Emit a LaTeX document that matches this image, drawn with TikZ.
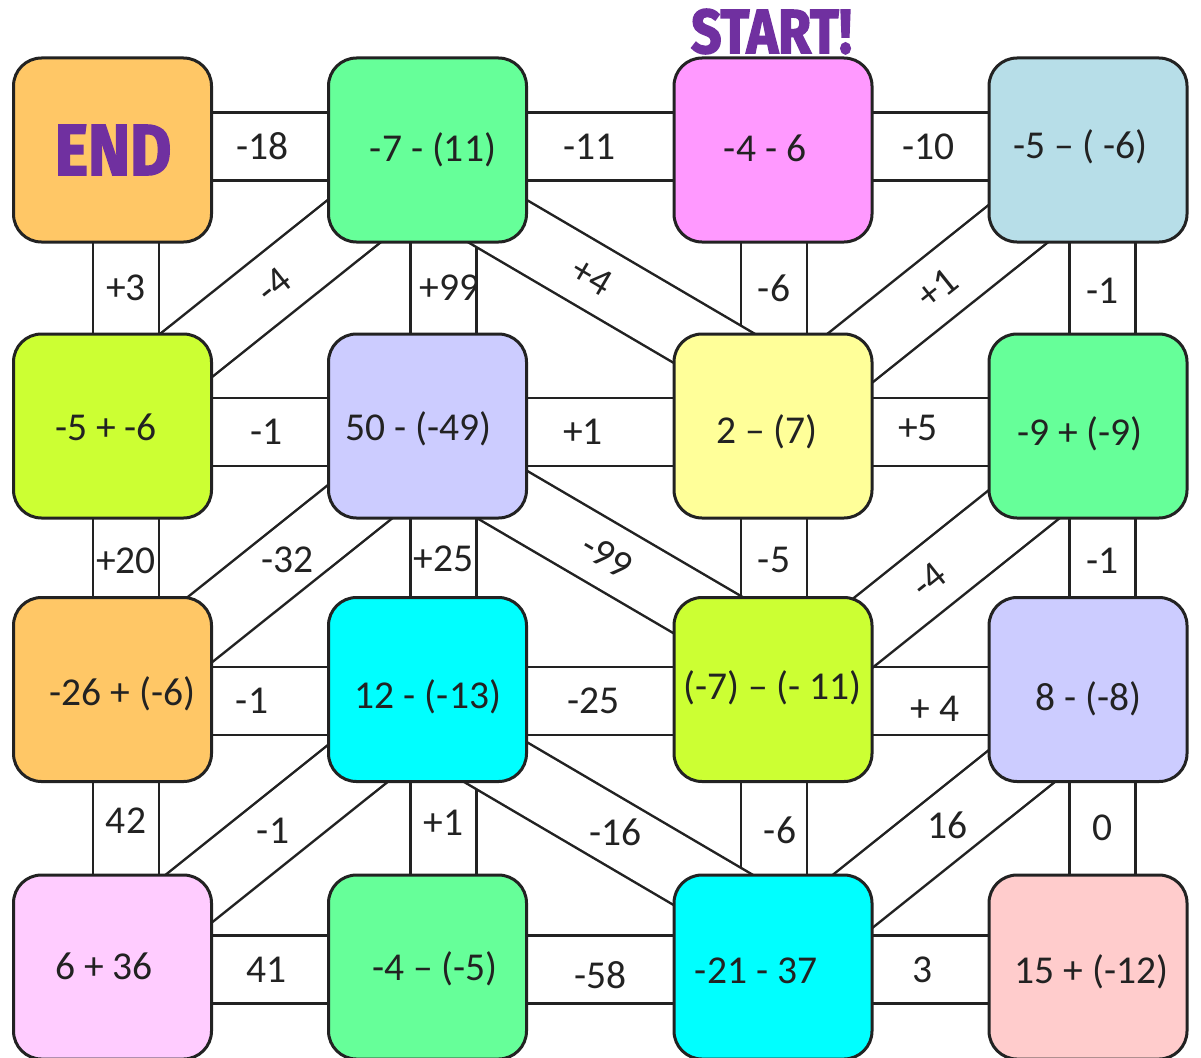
\documentclass[tikz,border=0pt]{standalone}
\usepackage{fontspec}
\setmainfont{Carlito}
\newfontfamily\chunky{Fira Sans}[BoldFeatures={FakeBold=2.5}]
\usetikzlibrary{backgrounds}
\definecolor{ink}{HTML}{222222}
\definecolor{endpurple}{HTML}{7030A0}
\definecolor{peach}{HTML}{FFC766}
\definecolor{mint}{HTML}{66FF99}
\definecolor{orchid}{HTML}{FF99FF}
\definecolor{steel}{HTML}{B7DEE8}
\definecolor{chartr}{HTML}{CCFF33}
\definecolor{lavender}{HTML}{CCCCFF}
\definecolor{lemon}{HTML}{FFFF99}
\definecolor{aqua}{HTML}{00FFFF}
\definecolor{blush}{HTML}{FFCCFF}
\definecolor{salmon}{HTML}{FFCCCC}
\newcommand\numfont{\fontsize{39.5}{44}\selectfont}
\tikzset{
  box/.style={draw=ink, line width=3pt, rounded corners=28pt,
              minimum width=198pt, minimum height=184pt, inner sep=0pt},
  expr/.style={font=\numfont, text=ink, inner sep=0pt},
  title/.style={font=\chunky\bfseries, text=endpurple, inner sep=0pt},
  chan/.style={draw=ink, line width=2.5pt, double=white, double distance=63.5pt},
  hchan/.style={chan, double distance=65.5pt},
  lbl/.style={font=\numfont, text=ink, inner sep=0pt},
}
\begin{document}
\begin{tikzpicture}[x=1pt, y=-1pt]
\useasboundingbox (0,0) rectangle (1201,1057);
\clip (0,0) rectangle (1201,1057);

% boxes
\node[box, fill=peach]    (b11) at (112.5,150) {};
\node[box, fill=mint]     (b12) at (427.5,150) {};
\node[box, fill=orchid]   (b13) at (773,150) {};
\node[box, fill=steel]    (b14) at (1088,150) {};
\node[box, fill=chartr]   (b21) at (112.5,426) {};
\node[box, fill=lavender] (b22) at (427.5,426) {};
\node[box, fill=lemon]    (b23) at (773,426) {};
\node[box, fill=mint]     (b24) at (1088,426) {};
\node[box, fill=peach]    (b31) at (112.5,689.5) {};
\node[box, fill=aqua]     (b32) at (427.5,689.5) {};
\node[box, fill=chartr]   (b33) at (773,689.5) {};
\node[box, fill=lavender] (b34) at (1088,689.5) {};
\node[box, fill=blush]    (b41) at (112.5,967) {};
\node[box, fill=mint]     (b42) at (427.5,967) {};
\node[box, fill=aqua]     (b43) at (773,967) {};
\node[box, fill=salmon]   (b44) at (1088,967) {};

% sums
\node[title] (e11) at (113,150) {\fontsize{72}{72}\selectfont\scalebox{.88}[1]{END}};
\node[expr] (e12) at (433,150) {-7 - (11)};
\node[expr] (e13) at (765,148) {-4 - 6};
\node[expr] (e14) at (1080.5,147) {-5 – ( -6)};
\node[expr] (e21) at (106,427) {-5 + -6};
\node[expr] (e22) at (418.5,429) {50 - (-49)};
\node[expr] (e23) at (767,432) {2 – (7)};
\node[expr] (e24) at (1080,434) {-9 + (-9)};
\node[expr] (e31) at (122.5,694) {-26 + (-6)};
\node[expr] (e32) at (428,697) {12 - (-13)};
\node[expr] (e33) at (772.5,688) {(-7) – (- 11)};
\node[expr] (e34) at (1088.5,699) {8 - (-8)};
\node[expr] (e41) at (104,966) {6 + 36};
\node[expr] (e42) at (435,969) {-4 – (-5)};
\node[expr] (e43) at (756,971) {-21 - 37};
\node[expr] (e44) at (1091.5,972) {15 + (-12)};
\node[title] (start) at (771.5,31.5) {\fontsize{62}{62}\selectfont\scalebox{.86}[1]{START!}};

\begin{pgfonlayer}{background}
\fill[white] (0,0) rectangle (1201,1057);
% across
\draw[hchan] ([yshift=3.5pt]b11.center) -- ([yshift=3.5pt]b12.center) node[lbl, pos=.475] (h11) {-18};
\draw[hchan] ([yshift=3.5pt]b12.center) -- ([yshift=3.5pt]b13.center) node[lbl, pos=.47] (h12) {-11};
\draw[hchan] ([yshift=3.5pt]b13.center) -- ([yshift=3.5pt]b14.center) node[lbl, pos=.495] (h13) {-10};
\draw[hchan] ([yshift=-6pt]b21.center) -- ([yshift=-6pt]b22.center) node[lbl, pos=.49] (h21) {-1};
\draw[hchan] ([yshift=-6pt]b22.center) -- ([yshift=-6pt]b23.center) node[lbl, pos=.45] (h22) {+1};
\draw[hchan] ([yshift=-6pt]b23.center) -- ([yshift=-6pt]b24.center) node[lbl, pos=.46, yshift=4pt] (h23) {+5};
\draw[hchan] ([yshift=-11.5pt]b31.center) -- ([yshift=-11.5pt]b32.center) node[lbl, pos=.443] (h31) {-1};
\draw[hchan] ([yshift=-11.5pt]b32.center) -- ([yshift=-11.5pt]b33.center) node[lbl, pos=.48] (h32) {-25};
\draw[hchan] ([yshift=-11.5pt]b33.center) -- ([yshift=-11.5pt]b34.center) node[lbl, pos=.514, yshift=-8pt] (h33) {+ 4};
\draw[hchan] ([yshift=-2.5pt]b41.center) -- ([yshift=-2.5pt]b42.center) node[lbl, pos=.49] (h41) {41};
\draw[hchan] ([yshift=-2.5pt]b42.center) -- ([yshift=-2.5pt]b43.center) node[lbl, pos=.5, yshift=-5.5pt] (h42) {-58};
\draw[hchan] ([yshift=-2.5pt]b43.center) -- ([yshift=-2.5pt]b44.center) node[lbl, pos=.475] (h43) {3};
% down
\draw[chan] ([xshift=13.5pt]b11.center) -- ([xshift=13.5pt]b21.center) node[lbl, midway] (v11) {+3};
\draw[chan] ([xshift=16pt]b12.center) -- ([xshift=16pt]b22.center) node[lbl, midway, xshift=6pt] (v12) {+99};
\draw[chan] ([xshift=1pt]b13.center) -- ([xshift=1pt]b23.center) node[lbl, midway] (v13) {-6};
\draw[chan] ([xshift=14.5pt]b14.center) -- ([xshift=14.5pt]b24.center) node[lbl, pos=.51] (v14) {-1};
\draw[chan] ([xshift=13.5pt]b21.center) -- ([xshift=13.5pt]b31.center) node[lbl, pos=.51] (v21) {+20};
\draw[chan] ([xshift=16pt]b22.center) -- ([xshift=16pt]b32.center) node[lbl, pos=.505] (v22) {+25};
\draw[chan] ([xshift=1pt]b23.center) -- ([xshift=1pt]b33.center) node[lbl, pos=.51] (v23) {-5};
\draw[chan] ([xshift=14.5pt]b24.center) -- ([xshift=14.5pt]b34.center) node[lbl, pos=.51] (v24) {-1};
\draw[chan] ([xshift=13.5pt]b31.center) -- ([xshift=13.5pt]b41.center) node[lbl, pos=.473] (v31) {42};
\draw[chan] ([xshift=16pt]b32.center) -- ([xshift=16pt]b42.center) node[lbl, pos=.481] (v32) {+1};
\draw[chan] ([xshift=1pt]b33.center) -- ([xshift=1pt]b43.center) node[lbl, pos=.506, xshift=6pt] (v33) {-6};
\draw[chan] ([xshift=14.5pt]b34.center) -- ([xshift=14.5pt]b44.center) node[lbl, midway] (v34) {0};
% slants
\draw[chan] ([shift={(7,7)}]b12.center) -- ([shift={(-6,-7)}]b21.center) node[lbl, sloped, pos=.49] (d11) {-4};
\draw[chan] ([shift={(-12,23)}]b12.center) -- ([shift={(19,-32)}]b23.center) node[lbl, sloped, pos=.47] (d12) {+4};
\draw[chan] ([shift={(10,10)}]b14.center) -- ([shift={(-3,-4)}]b23.center) node[lbl, sloped, pos=.49] (d13) {+1};
\draw[chan] ([shift={(11,13)}]b22.center) -- ([shift={(5,6)}]b31.center) node[lbl, pos=.47] (d21) {-32};
\draw[chan] ([shift={(-10,19)}]b22.center) -- ([shift={(16,-27)}]b33.center) node[lbl, sloped, pos=.51] (d22) {-99};
\draw[chan] ([shift={(14,16)}]b24.center) -- ([shift={(8,9)}]b33.center) node[lbl, sloped, pos=.54] (d23) {-4};
\draw[chan] ([shift={(9,11)}]b32.center) -- ([shift={(-3,-5)}]b41.center) node[lbl, pos=.5] (d31) {-1};
\draw[chan] ([shift={(-13,25)}]b32.center) -- ([shift={(17,-32)}]b43.center) node[lbl, pos=.535] (d32) {-16};
\draw[chan] ([shift={(12,14)}]b34.center) -- ([shift={(0,-2)}]b43.center) node[lbl, pos=.466] (d33) {16};
\end{pgfonlayer}
\end{tikzpicture}
\end{document}
